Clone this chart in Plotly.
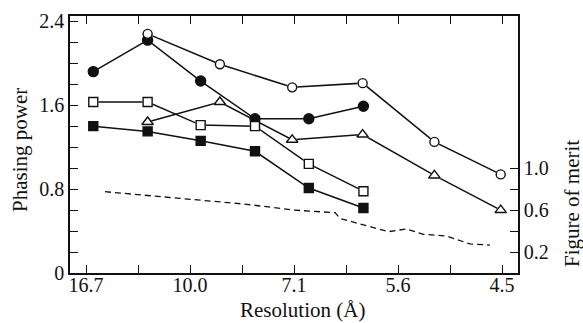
import plotly.graph_objects as go

# x values are reciprocal resolution 1/d (1/Å); axis labelled in Å
tick_s = [0.06, 0.08, 0.10, 0.12, 0.14, 0.16, 0.18, 0.20, 0.22]
tick_labels = ["16.7", "", "10.0", "", "7.1", "", "5.6", "", "4.5"]

# Series A: open circles
s_open_circle = [0.0837, 0.1115, 0.1393, 0.1664, 0.1940, 0.2195]
pp_open_circle = [2.28, 1.99, 1.77, 1.81, 1.25, 0.94]
# Series B: filled circles
s_filled_circle = [0.0628, 0.0837, 0.1041, 0.1250, 0.1457, 0.1667]
pp_filled_circle = [1.92, 2.22, 1.83, 1.47, 1.47, 1.59]
# Series C: open squares
s_open_square = [0.0628, 0.0837, 0.1041, 0.1250, 0.1457, 0.1667]
pp_open_square = [1.63, 1.63, 1.41, 1.40, 1.04, 0.78]
# Series D: filled squares
s_filled_square = [0.0628, 0.0837, 0.1041, 0.1250, 0.1457, 0.1667]
pp_filled_square = [1.40, 1.35, 1.26, 1.16, 0.81, 0.62]
# Series E: open triangles
s_open_triangle = [0.0837, 0.1115, 0.1393, 0.1664, 0.1940, 0.2195]
pp_open_triangle = [1.44, 1.63, 1.27, 1.32, 0.93, 0.60]
# Figure of merit (dashed)
s_fom = [0.0673, 0.0885, 0.1038, 0.1218, 0.1397, 0.1558, 0.1577, 0.1654,
         0.1763, 0.1833, 0.1897, 0.1987, 0.2077, 0.2154]
fom = [0.775, 0.727, 0.695, 0.655, 0.600, 0.575, 0.520, 0.466,
       0.394, 0.420, 0.369, 0.352, 0.277, 0.266]

left_ticks = [round(0.2 * i, 1) for i in range(13)]
left_labels = ["0" if v == 0 else (f"{v:.1f}" if v in (0.8, 1.6, 2.4) else "") for v in left_ticks]
right_ticks = [0.2, 0.4, 0.6, 0.8, 1.0]
right_labels = ["0.2", "", "0.6", "", "1.0"]

FONT = "'Liberation Serif', 'Times New Roman', 'DejaVu Serif', serif"
BLACK = "#111111"

fig = go.Figure()

def add(xs, ys, symbol, size):
    fig.add_trace(go.Scatter(
        x=xs, y=ys, mode="lines+markers",
        line=dict(color=BLACK, width=1.5),
        marker=dict(symbol=symbol, size=size, color="white" if "open" in symbol else BLACK,
                    line=dict(color=BLACK, width=1.4)),
        showlegend=False, cliponaxis=False))

add(s_open_circle, pp_open_circle, "circle-open", 9)
add(s_filled_circle, pp_filled_circle, "circle", 10)
add(s_open_square, pp_open_square, "square-open", 9)
add(s_filled_square, pp_filled_square, "square", 9)
add(s_open_triangle, pp_open_triangle, "triangle-up-open", 10)

# open markers with white fill drawn on top
for xs, ys, sym, sz in [(s_open_circle, pp_open_circle, "circle", 9),
                        (s_open_square, pp_open_square, "square", 9),
                        (s_open_triangle, pp_open_triangle, "triangle-up", 10)]:
    fig.add_trace(go.Scatter(x=xs, y=ys, mode="markers",
                             marker=dict(symbol=sym, size=sz, color="white",
                                         line=dict(color=BLACK, width=1.4)),
                             showlegend=False, cliponaxis=False))

fig.add_trace(go.Scatter(x=s_fom, y=fom, mode="lines", yaxis="y2",
                         line=dict(color=BLACK, width=1.3, dash="6px,4px"),
                         showlegend=False))

ML, MR, MT, MB = 70, 65, 16, 50
W, H = 583, 323
xr = [0.06 - 16 / 2600, 0.22 + 16 / 2600]
yr = [0, 2.45]

axis_common = dict(ticks="inside", ticklen=8, tickwidth=1.2, tickcolor=BLACK,
                   showline=True, linecolor=BLACK, linewidth=1.5, showgrid=False,
                   zeroline=False, automargin=False, tickfont=dict(size=20))

fig.update_layout(
    width=W, height=H,
    margin=dict(l=ML, r=MR, t=MT, b=MB, autoexpand=False),
    paper_bgcolor="white", plot_bgcolor="white",
    font=dict(family=FONT, size=20, color=BLACK),
    xaxis=dict(range=xr, tickvals=tick_s, ticktext=tick_labels, mirror="ticks",
               ticklabelstandoff=-7, **axis_common),
    yaxis=dict(range=yr, tickvals=left_ticks, ticktext=left_labels, **axis_common),
    yaxis2=dict(range=yr, overlaying="y", side="right", tickvals=right_ticks,
                ticktext=right_labels, **axis_common),
)

pw = W - ML - MR
ph = H - MT - MB

def ann(text, px, py, angle=0, size=21):
    fig.add_annotation(text=text, x=(px - ML) / pw, y=(H - MB - py) / ph,
                       xref="paper", yref="paper", xanchor="center", yanchor="middle",
                       showarrow=False, textangle=angle, font=dict(size=size))

ann("Phasing power", 20, 150, -90)
ann("Figure of merit", 572, 204, -90)
ann("Resolution (Å)", 302, 310, 0, 21)

fig.write_html("out.html", config={"displayModeBar": False},
               post_script="document.body.style.margin='0';document.body.style.overflow='hidden';")
